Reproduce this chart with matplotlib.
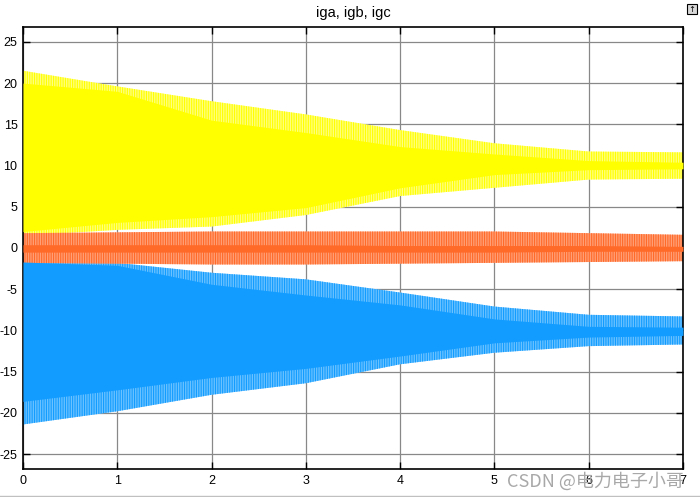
import matplotlib
matplotlib.use("Agg")
import matplotlib.pyplot as plt
from matplotlib.patches import Rectangle
from matplotlib.lines import Line2D

# -----------------------
# 1) DATA (envelopes read off the scope)
# -----------------------
T = [0, 1, 2, 3, 4, 5, 6, 7]

# iga (yellow)
IGA_OUT_HI = [21.5, 19.6, 17.8, 16.2, 14.3, 12.7, 11.7, 11.6]
IGA_IN_HI  = [20.0, 19.0, 15.5, 14.0, 12.3, 11.4, 10.6, 10.4]
IGA_IN_LO  = [2.0, 3.1, 3.8, 4.9, 7.3, 8.9, 9.5, 9.6]
IGA_OUT_LO = [1.5, 2.2, 2.6, 4.0, 6.3, 7.3, 8.3, 8.4]

# igb (blue)
IGB_OUT_HI = [-1.6, -1.8, -3.0, -3.8, -5.4, -7.1, -8.1, -8.3]
IGB_IN_HI  = [-1.7, -2.1, -4.4, -5.7, -6.9, -8.6, -9.5, -9.6]
IGB_IN_LO  = [-18.6, -17.2, -15.7, -14.6, -13.1, -11.5, -10.8, -10.6]
IGB_OUT_LO = [-21.4, -19.8, -17.8, -16.4, -14.1, -12.7, -11.9, -11.7]

# igc (orange)
IGC_OUT_HI = [1.8, 1.9, 2.0, 2.0, 2.0, 2.0, 1.8, 1.6]
IGC_IN_HI  = [0.4, 0.4, 0.4, 0.4, 0.3, 0.3, 0.3, 0.2]
IGC_IN_LO  = [-0.5, -0.5, -0.5, -0.5, -0.5, -0.5, -0.4, -0.4]
IGC_OUT_LO = [-1.8, -1.9, -2.0, -2.0, -1.9, -1.8, -1.7, -1.6]

X_TICKS = [0, 1, 2, 3, 4, 5, 6, 7]
Y_TICKS = [-25, -20, -15, -10, -5, 0, 5, 10, 15, 20, 25]

SERIES = [
    # out_lo, in_lo, in_hi, out_hi, solid, light
    (IGA_OUT_LO, IGA_IN_LO, IGA_IN_HI, IGA_OUT_HI, '#ffff00', '#ffff80'),
    (IGB_OUT_LO, IGB_IN_LO, IGB_IN_HI, IGB_OUT_HI, '#129cff', '#6cc2ff'),
    (IGC_OUT_LO, IGC_IN_LO, IGC_IN_HI, IGC_OUT_HI, '#ff6a28', '#ff9f78'),
]

# -----------------------
# 2) FIGURE
# -----------------------
plt.rcParams['font.family'] = ['Liberation Sans', 'DejaVu Sans']
plt.rcParams['hatch.linewidth'] = 0.8
fig = plt.figure(figsize=(7.0, 4.97), dpi=100)
fig.patch.set_facecolor('white')
ax = fig.add_axes([23 / 700, 1 - 469 / 497, 660 / 700, 442 / 497])

for out_lo, in_lo, in_hi, out_hi, solid, light in SERIES:
    ax.fill_between(T, out_lo, out_hi, facecolor=light, edgecolor=solid,
                    hatch='|||||||', linewidth=0, zorder=2)
    ax.fill_between(T, in_lo, in_hi, color=solid, linewidth=0, zorder=3)

ax.set_xlim(0, 7)
ax.set_ylim(-26.8, 26.8)
ax.set_xticks(X_TICKS)
ax.set_yticks(Y_TICKS)
ax.set_xticklabels([str(v) for v in X_TICKS])
ax.set_yticklabels([str(v) for v in Y_TICKS])
ax.tick_params(direction='in', top=True, right=True, length=5, width=1,
               labelsize=9, colors='black', pad=4)
ax.grid(True, color='#888888', linewidth=0.9, zorder=1)
ax.set_axisbelow(True)
for sp in ax.spines.values():
    sp.set_linewidth(1.2)
    sp.set_color('black')

ax.set_title('iga, igb, igc', fontsize=10.5, pad=7)

# -----------------------
# 3) DECORATIONS
# -----------------------
fig.text(684 / 700, 1 - 481 / 497, 'CSDN @电力电子小哥', ha='right', va='center',
         fontsize=13, color='#a8a8a8',
         family=['Noto Sans CJK SC', 'DejaVu Sans'], zorder=10)

fig.add_artist(Rectangle((687 / 700, 1 - 14 / 497), 10 / 700, 10 / 497,
                         transform=fig.transFigure, facecolor='#d8d8d8',
                         edgecolor='black', linewidth=0.8))
fig.text(692 / 700, 1 - 9 / 497, '↑', ha='center', va='center', fontsize=6,
         family=['DejaVu Sans'])
fig.add_artist(Line2D([0, 1], [1 / 497, 1 / 497], transform=fig.transFigure,
                      color='#c0c0c0', linewidth=1))

fig.savefig('out.png', dpi=100)
